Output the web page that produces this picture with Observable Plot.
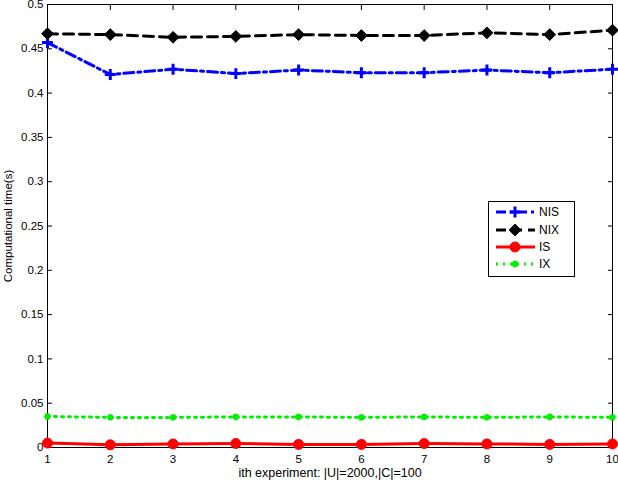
<!DOCTYPE html>
<html>
<head>
<meta charset="utf-8">
<script src="https://cdn.jsdelivr.net/npm/d3@7"></script>
<script src="https://cdn.jsdelivr.net/npm/@observablehq/plot@0.6"></script>
<style>
  html, body { margin: 0; padding: 0; background: #fff; }
  #wrap { position: relative; width: 618px; height: 480px; font-family: "Liberation Sans", Arial, sans-serif; }
  #legend { position: absolute; left: 0; top: 0; }
</style>
</head>
<body>
<div id="wrap"></div>
<script>
const experiments = [1, 2, 3, 4, 5, 6, 7, 8, 9, 10];
const nis = [0.457, 0.421, 0.427, 0.422, 0.426, 0.423, 0.423, 0.426, 0.423, 0.427];
const nix = [0.467, 0.466, 0.463, 0.464, 0.466, 0.465, 0.465, 0.468, 0.466, 0.471];
const is_ = [0.005, 0.003, 0.004, 0.0045, 0.0035, 0.0035, 0.0045, 0.004, 0.0035, 0.004];
const ix = [0.035, 0.034, 0.034, 0.0345, 0.0345, 0.034, 0.0345, 0.034, 0.0345, 0.034];
const yTicks = [0, 0.05, 0.1, 0.15, 0.2, 0.25, 0.3, 0.35, 0.4, 0.45, 0.5];

const seriesDefs = [
  {name: "NIS", values: nis, color: "#0000ff", dash: "10,4,3,4", symbol: "plus", r: 3.6, fill: "#0000ff", sw: 3, msw: 3},
  {name: "NIX", values: nix, color: "#000000", dash: "10,6", symbol: "diamond2", r: 5.3, fill: "#000000", sw: 3, msw: 1},
  {name: "IS", values: is_, color: "#ff0000", dash: null, symbol: "circle", r: 5, fill: "#ff0000", sw: 3, msw: 1},
  {name: "IX", values: ix, color: "#00ee00", dash: "2,5", symbol: "asterisk", r: 3, fill: "#00ee00", sw: 3, msw: 3}
];

const marks = [];
for (const s of seriesDefs) {
  const data = experiments.map((x, i) => ({x, y: s.values[i]}));
  marks.push(Plot.line(data, {x: "x", y: "y", stroke: s.color, strokeWidth: s.sw, strokeDasharray: s.dash}));
  if (s.symbol === "plus" || s.symbol === "asterisk") {
    marks.push(Plot.dot(data, {x: "x", y: "y", symbol: s.symbol, r: s.r, stroke: s.color, strokeWidth: s.msw}));
  } else {
    marks.push(Plot.dot(data, {x: "x", y: "y", symbol: s.symbol, r: s.r, fill: s.fill, stroke: s.color, strokeWidth: s.msw}));
  }
}

const fmt = d => String(+d.toFixed(2));

const chart = Plot.plot({
  width: 618,
  height: 480,
  marginLeft: 47,
  marginRight: 6,
  marginTop: 4,
  marginBottom: 33,
  style: {fontFamily: "Liberation Sans, Arial, sans-serif", fontSize: "11px", color: "#000", background: "#fff"},
  x: {domain: [1, 10]},
  y: {domain: [0, 0.5]},
  marks: [
    Plot.frame({stroke: "#000", strokeWidth: 1}),
    Plot.axisX(experiments, {anchor: "bottom", tickSize: -5, tickPadding: 12, tickFormat: d => String(d), label: null, fontSize: 11.5}),
    Plot.text(["ith experiment: |U|=2000,|C|=100"], {frameAnchor: "bottom", dy: 29, fontSize: 12.5, text: d => d}),
    Plot.axisX(experiments, {anchor: "top", tickSize: -5, tickFormat: () => "", label: null}),
    Plot.axisY(yTicks, {anchor: "left", tickSize: -5, tickPadding: 9, tickFormat: fmt, label: "Computational time(s)", labelAnchor: "center", labelArrow: "none", labelOffset: 44, fontSize: 11.5}),
    Plot.axisY(yTicks, {anchor: "right", tickSize: -5, tickFormat: () => "", label: null}),
    ...marks
  ]
});

const wrap = document.getElementById("wrap");
wrap.appendChild(chart);

// Legend overlay
const lg = d3.select(wrap).append("svg")
  .attr("id", "legend")
  .attr("width", 618).attr("height", 480)
  .style("pointer-events", "none");
const box = {x: 488.5, y: 201.5, w: 86, h: 75};
lg.append("rect").attr("x", box.x).attr("y", box.y).attr("width", box.w).attr("height", box.h)
  .attr("fill", "#fff").attr("stroke", "#000").attr("stroke-width", 1);
const rowY = [212, 230, 247, 264];
const symMap = {plus: d3.symbolPlus, diamond2: d3.symbolDiamond2, circle: d3.symbolCircle, asterisk: d3.symbolAsterisk};
seriesDefs.forEach((s, i) => {
  const y = rowY[i];
  lg.append("line").attr("x1", 496).attr("x2", 535).attr("y1", y).attr("y2", y)
    .attr("stroke", s.color).attr("stroke-width", s.sw)
    .attr("stroke-dasharray", s.dash);
  const area = Math.PI * s.r * s.r;
  const p = lg.append("path").attr("transform", `translate(515,${y})`)
    .attr("d", d3.symbol(symMap[s.symbol], area)());
  if (s.symbol === "plus" || s.symbol === "asterisk") {
    p.attr("fill", "none").attr("stroke", s.color).attr("stroke-width", s.msw);
  } else {
    p.attr("fill", s.fill).attr("stroke", s.color).attr("stroke-width", s.msw);
  }
  lg.append("text").attr("x", 539).attr("y", y).attr("dy", "0.35em")
    .attr("font-size", 12).attr("font-family", "Liberation Sans, Arial, sans-serif")
    .text(s.name);
});
</script>
</body>
</html>
